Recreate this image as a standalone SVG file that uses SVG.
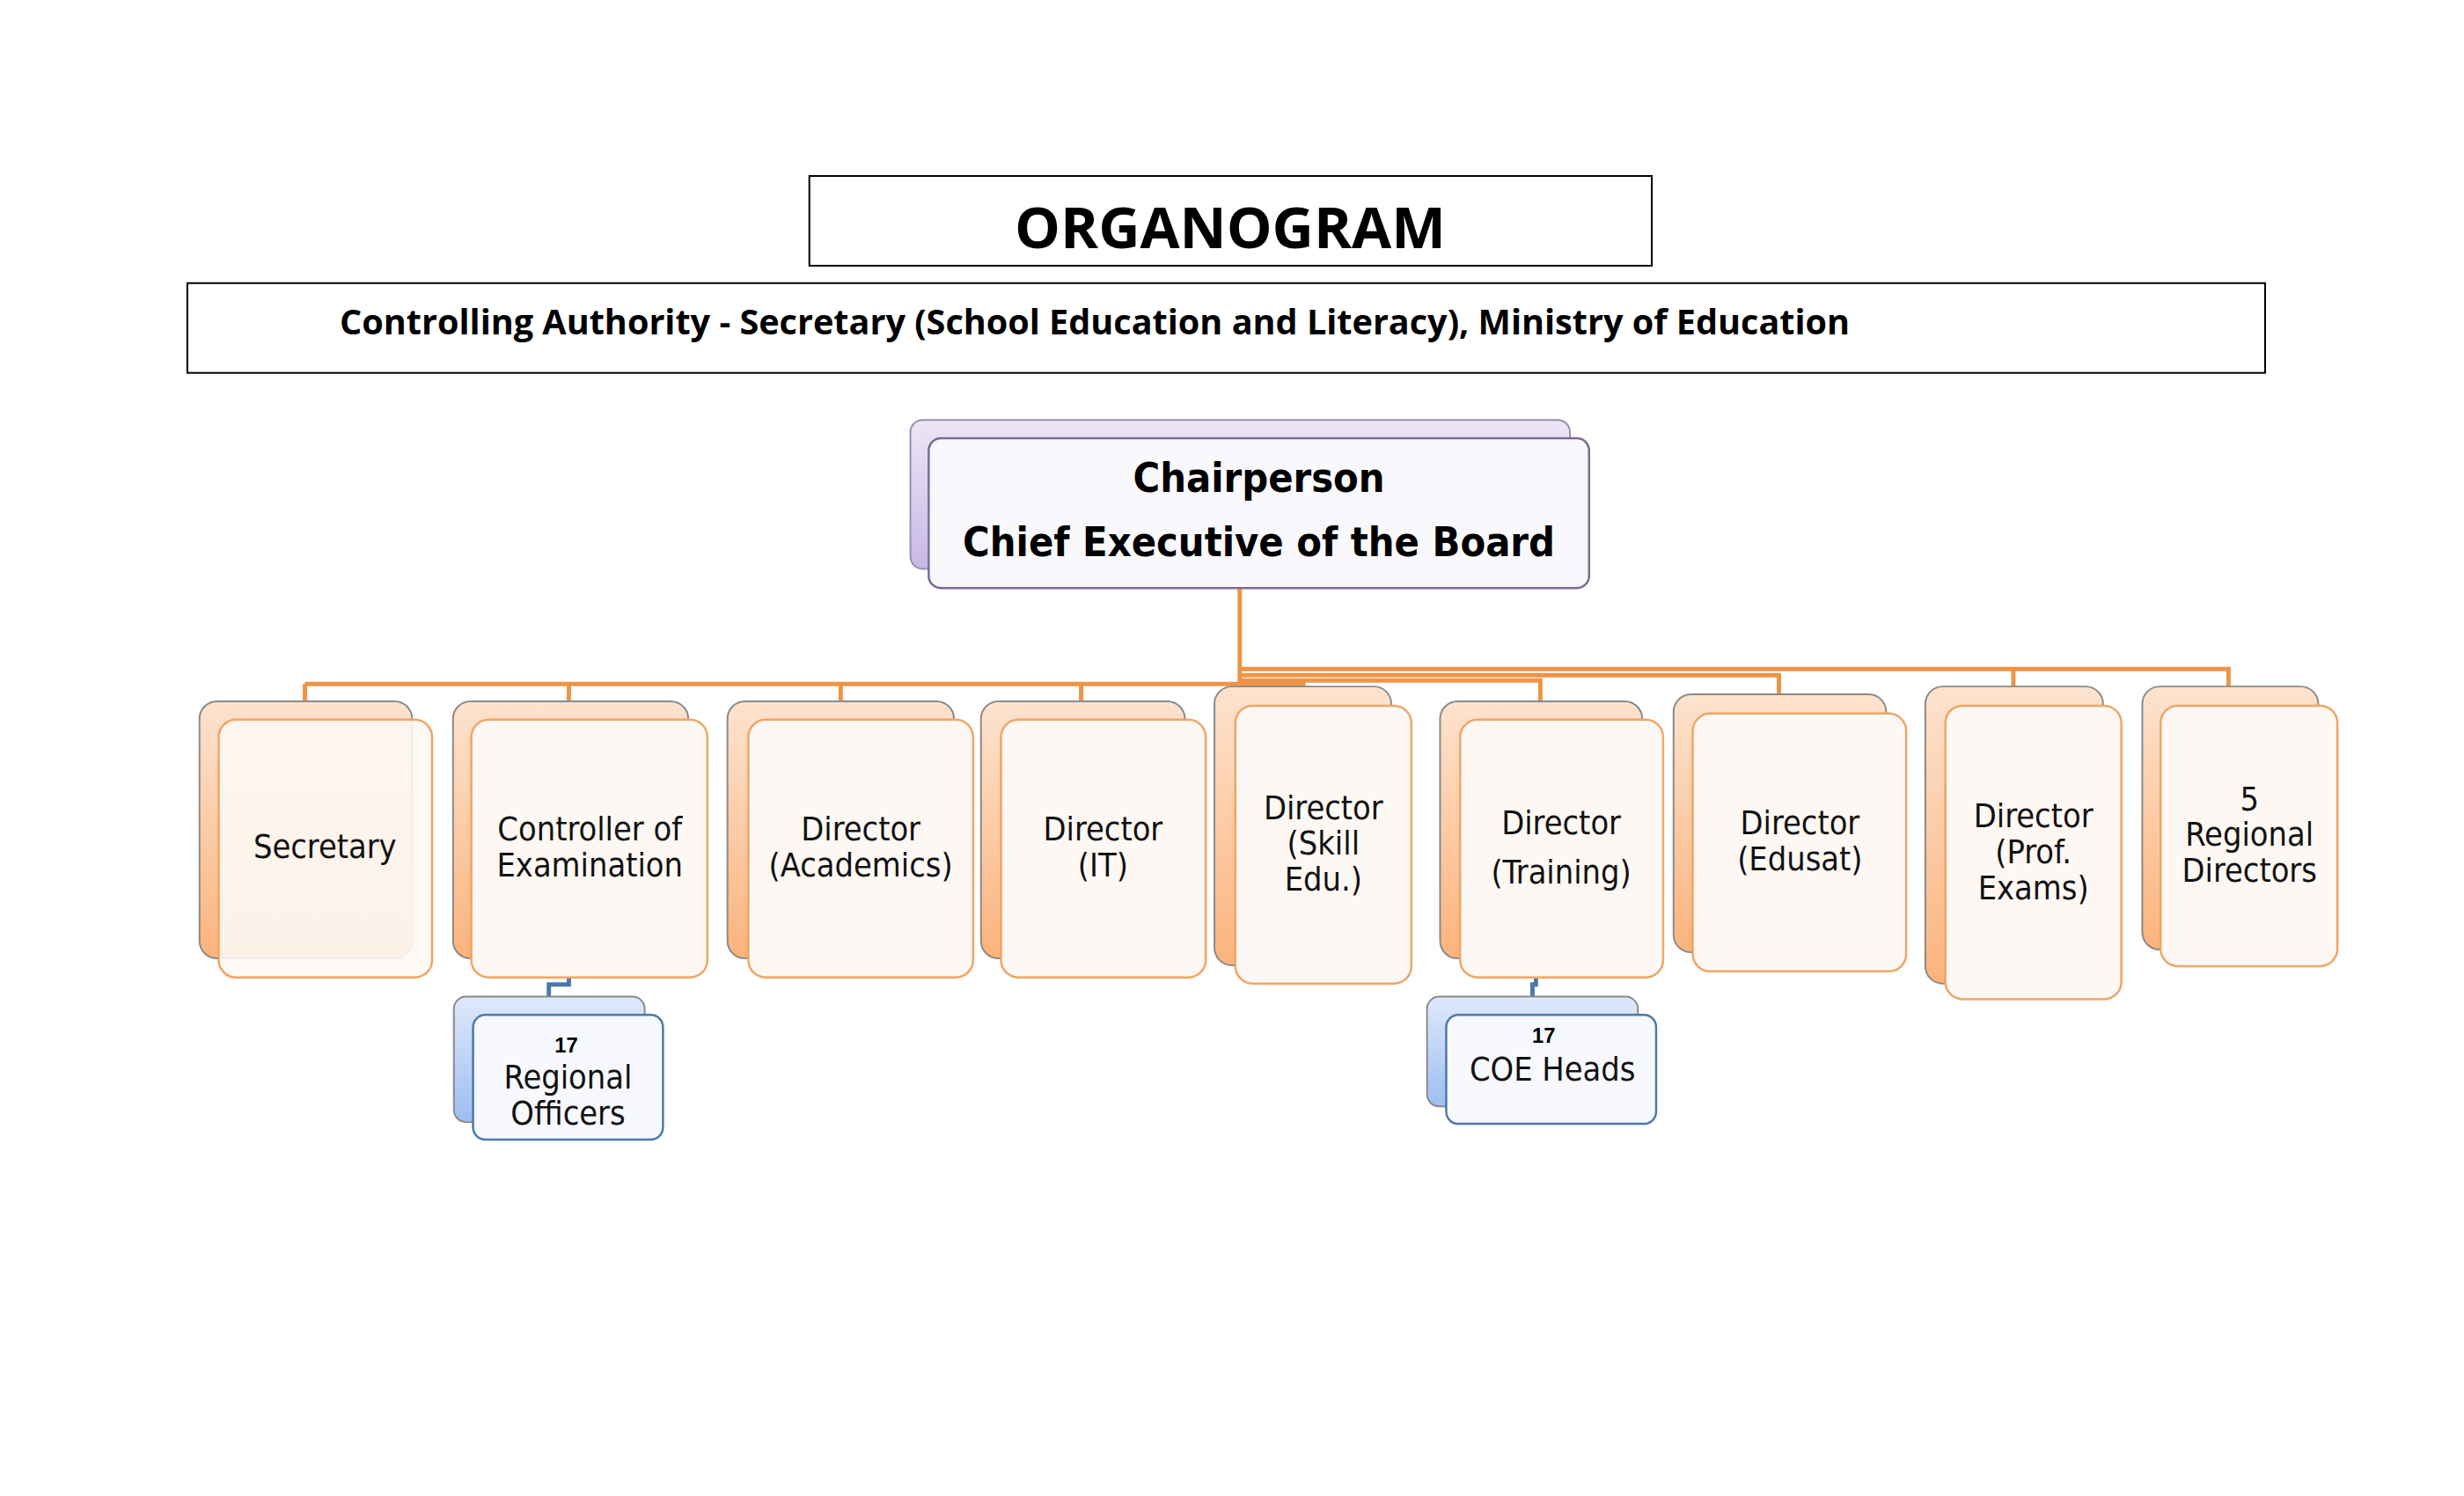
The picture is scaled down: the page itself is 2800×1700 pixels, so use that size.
<svg xmlns="http://www.w3.org/2000/svg" width="2800" height="1700" viewBox="0 0 2800 1700">
<defs>
<linearGradient id="og" x1="0" y1="0" x2="0" y2="1"><stop offset="0" stop-color="#fde3cf"/><stop offset="1" stop-color="#fbb37c"/></linearGradient>
<linearGradient id="pg" x1="0" y1="0" x2="0" y2="1"><stop offset="0" stop-color="#ece6f6"/><stop offset="1" stop-color="#c8b8e6"/></linearGradient>
<linearGradient id="bg" x1="0" y1="0" x2="0" y2="1"><stop offset="0" stop-color="#dfe9fb"/><stop offset="1" stop-color="#9dbdf2"/></linearGradient>
</defs>
<style>
.ob{fill:url(#og);stroke:#8a8a8a;stroke-width:2}
.of{fill:#fdf8f4;stroke:#f0a565;stroke-width:2.5}
.pb{fill:url(#pg);stroke:#9a8fb0;stroke-width:2}
.pf{fill:#f9f8fd;stroke:#7c6a96;stroke-width:2.5}
.bb{fill:url(#bg);stroke:#8a8a8a;stroke-width:2}
.bf{fill:#f7f9fe;stroke:#4a7aa8;stroke-width:2.5}
.t{font-family:"DejaVu Sans Condensed","DejaVu Sans",sans-serif;font-size:38px;fill:#111;text-anchor:middle}
.n{font-family:"Liberation Sans",sans-serif;font-weight:bold;font-size:24px;text-anchor:middle}
.c{fill:none;stroke:#ee9447;stroke-width:5}
.cb{fill:none;stroke:#4a7aa8;stroke-width:5}
</style>
<rect width="2800" height="1700" fill="#fff"/>
<g transform="scale(0.99)">
<g id="title"><rect x="929" y="202" width="967" height="103" fill="#fff" stroke="#000" stroke-width="2"/>
<text x="1412" y="285" font-family="Open Sans, sans-serif" font-weight="bold" font-size="66" text-anchor="middle">ORGANOGRAM</text></g>
<g id="authority"><rect x="215" y="325" width="2385" height="103" fill="#fff" stroke="#000" stroke-width="2"/>
<text x="390" y="384" font-family="Open Sans, sans-serif" font-weight="bold" font-size="40">Controlling Authority -  Secretary (School Education and Literacy), Ministry of Education</text></g>
<g id="connectors">
<path class="c" d="M1423 674V785M350 785H1423M350 785V805M653 785V805M965 785V805M1241 785V805"/>
<path class="c" d="M1423 768H2558V788M2311 768V788M1423 775H2042V797M1423 781H1768V805M1423 786H1496V788"/>
<path class="cb" d="M653 1122V1130H630V1144M1763 1122V1130H1759V1144"/>
</g>
<g id="chair"><rect class="pb" x="1045" y="482" width="757" height="171" rx="14"/><rect class="pf" x="1066" y="503" width="758" height="172" rx="14"/>
<text x="1445" y="565" font-family="DejaVu Sans Condensed, DejaVu Sans, sans-serif" font-weight="bold" font-size="47" text-anchor="middle">Chairperson</text>
<text x="1445" y="638" font-family="DejaVu Sans Condensed, DejaVu Sans, sans-serif" font-weight="bold" font-size="47" text-anchor="middle">Chief Executive of the Board</text></g>
<g id="secretary"><rect class="ob" x="229" y="805" width="244" height="295" rx="20"/><rect class="of" x="251" y="826" width="245" height="296" rx="20" fill-opacity=".9"/><text class="t" x="373" y="985">Secretary</text></g>
<g id="controller"><rect class="ob" x="520" y="805" width="270" height="295" rx="20"/><rect class="of" x="541" y="826" width="271" height="296" rx="20"/><text class="t" x="677" y="965">Controller of</text><text class="t" x="677" y="1006">Examination</text></g>
<g id="academics"><rect class="ob" x="835" y="805" width="260" height="295" rx="20"/><rect class="of" x="859" y="826" width="258" height="296" rx="20"/><text class="t" x="988" y="965">Director</text><text class="t" x="988" y="1006">(Academics)</text></g>
<g id="it"><rect class="ob" x="1126" y="805" width="234" height="295" rx="20"/><rect class="of" x="1149" y="826" width="235" height="296" rx="20"/><text class="t" x="1266" y="965">Director</text><text class="t" x="1266" y="1006">(IT)</text></g>
<g id="skill"><rect class="ob" x="1394" y="788" width="203" height="320" rx="20"/><rect class="of" x="1418" y="810" width="202" height="319" rx="20"/><text class="t" x="1519" y="940">Director</text><text class="t" x="1519" y="981">(Skill</text><text class="t" x="1519" y="1022">Edu.)</text></g>
<g id="training"><rect class="ob" x="1653" y="805" width="232" height="295" rx="20"/><rect class="of" x="1676" y="826" width="233" height="296" rx="20"/><text class="t" x="1792" y="958">Director</text><text class="t" x="1792" y="1014">(Training)</text></g>
<g id="edusat"><rect class="ob" x="1921" y="797" width="244" height="296" rx="20"/><rect class="of" x="1943" y="819" width="245" height="296" rx="20"/><text class="t" x="2066" y="958">Director</text><text class="t" x="2066" y="999">(Edusat)</text></g>
<g id="prof"><rect class="ob" x="2210" y="788" width="204" height="341" rx="20"/><rect class="of" x="2233" y="810" width="202" height="337" rx="20"/><text class="t" x="2334" y="950">Director</text><text class="t" x="2334" y="991">(Prof.</text><text class="t" x="2334" y="1032">Exams)</text></g>
<g id="rd"><rect class="ob" x="2459" y="788" width="202" height="302" rx="20"/><rect class="of" x="2480" y="810" width="203" height="299" rx="20"/><text class="t" x="2582" y="930">5</text><text class="t" x="2582" y="971">Regional</text><text class="t" x="2582" y="1012">Directors</text></g>
<g id="officers"><rect class="bb" x="521" y="1144" width="219" height="144" rx="14"/><rect class="bf" x="543" y="1165" width="218" height="143" rx="14"/><text class="n" x="650" y="1208">17</text><text class="t" x="652" y="1250">Regional</text><text class="t" x="652" y="1291">Officers</text></g>
<g id="coe"><rect class="bb" x="1638" y="1144" width="242" height="126" rx="14"/><rect class="bf" x="1660" y="1165" width="241" height="125" rx="14"/><text class="n" x="1772" y="1197">17</text><text class="t" x="1782" y="1240">COE Heads</text></g>
</g>
</svg>
